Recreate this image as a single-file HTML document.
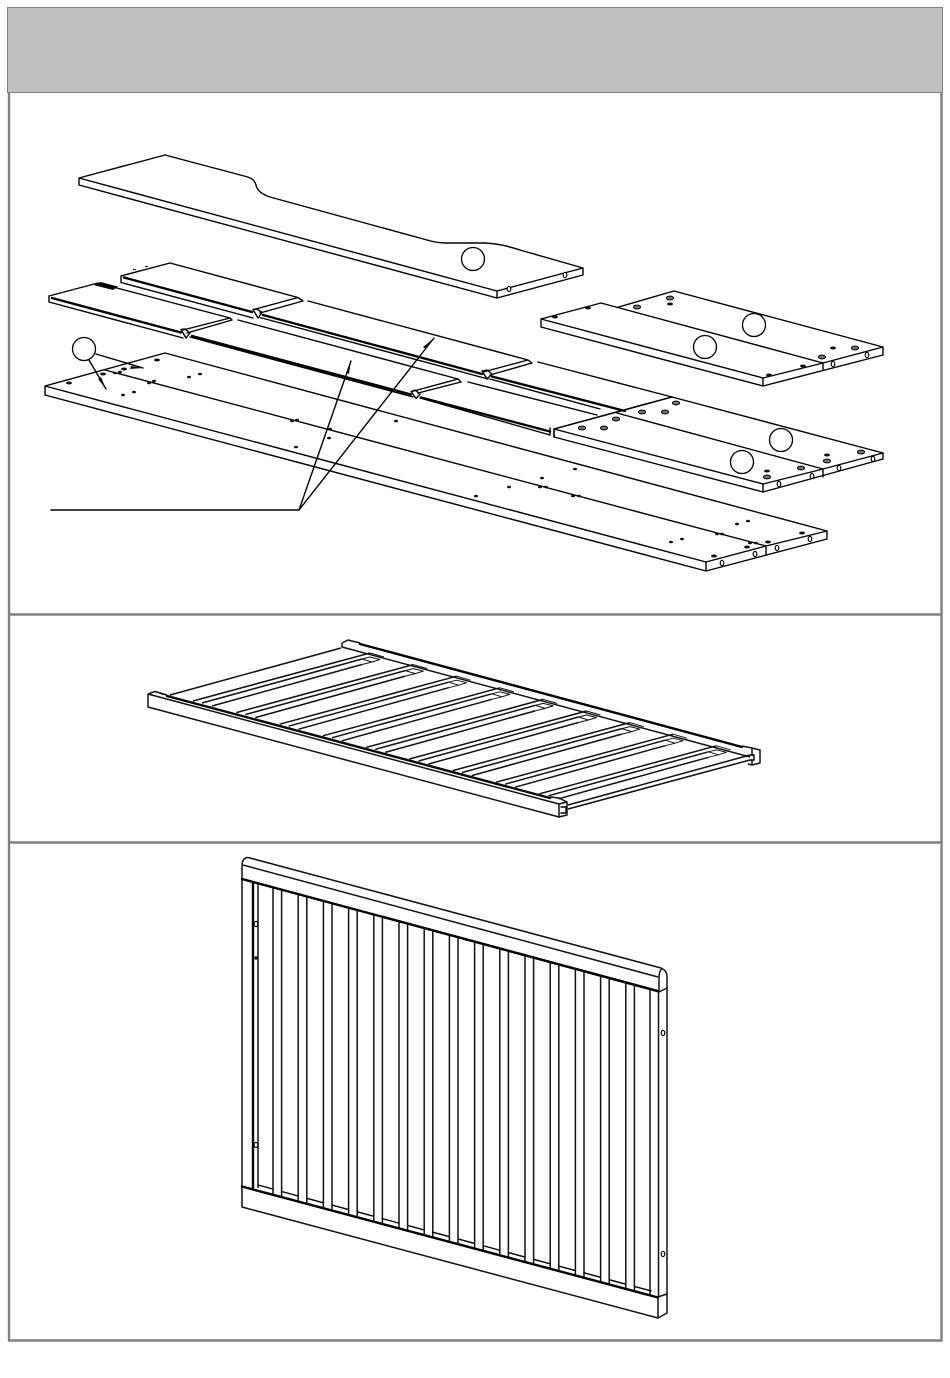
<!DOCTYPE html>
<html><head><meta charset="utf-8"><style>
html,body{margin:0;padding:0;background:#fff;width:950px;height:1378px;overflow:hidden}
svg{display:block}
.l{fill:none;stroke:#000;stroke-width:1.4;stroke-linejoin:round;stroke-linecap:round}
.t{fill:none;stroke:#000;stroke-width:2.4;stroke-linecap:round}
.g{fill:none;stroke:#333;stroke-width:1}
.m{fill:none;stroke:#111;stroke-width:1.5;stroke-linejoin:round}
.s{fill:none;stroke:#111;stroke-width:1;stroke-linejoin:round}
.c{fill:#fff;stroke:#000;stroke-width:1.3}
.d{fill:#111}
.o{fill:#777;stroke:#000;stroke-width:1}
.e{fill:#fff;stroke:#000;stroke-width:1.2}
</style></head><body>
<svg xmlns="http://www.w3.org/2000/svg" width="950" height="1378" viewBox="0 0 950 1378">
<defs>
<g id="slat">
<path class="m" d="M193 701L370 653M202 703L362 659M212 706L362 664.500"/>
<path class="s" d="M362 659L370 657L380 659.500L372 662L362 659M372 662L362 664.500M370 653L384 657"/>
</g>
<g id="bal"><path class="m" d="M273 887V1194.300M281.600 889.500V1196.700"/><path class="l" d="M281.600 1191.500L298.200 1196"/></g>
<ellipse id="dk" rx="3" ry="1.500" class="d"/>
<ellipse id="sm" rx="2" ry="1.300" class="d"/>
<ellipse id="op" rx="3.600" ry="1.900" class="o"/>
<ellipse id="ed" rx="1.800" ry="2.600" class="e"/>
</defs>

<!-- frame -->
<rect x="8" y="8" width="934" height="84.500" fill="#c0c0c0"/>
<path d="M7.500 93V7.500H942.500V93M7.500 92.500H942.500" fill="none" stroke="#808080" stroke-width="1"/>
<path d="M9 93V1340.500H941.500V93M9 614.500H941.500M9 842.500H941.500" fill="none" stroke="#808080" stroke-width="2.400"/>

<!-- top long board -->
<path class="l" d="M79 178L165 155L246 176.500C252 178 255 181 256 185C257 190 261 194 270 197L427 240C435 242.500 441 243 447 243H485C500 243.500 510 247 520 250L583 268V275L497 298L79 185V178L497 291L583 268"/>
<path class="l" d="M497 291V298"/>
<use href="#ed" x="509" y="289"/><use href="#ed" x="565" y="275"/>
<circle class="c" cx="473" cy="259" r="11.500"/>

<!-- top right board -->
<path class="l" d="M541 319L601 303L823 363L763 378L541 319V327L763 386V378M617 307.500L674 291L883 347V355L763 386M823 363L883 347M823 363V370"/>
<use href="#op" x="670" y="298"/><use href="#dk" x="670" y="304"/><use href="#op" x="637" y="307"/>
<use href="#dk" x="588" y="308"/><use href="#dk" x="555" y="317"/><use href="#dk" x="833" y="348"/>
<use href="#op" x="855" y="348"/><use href="#op" x="822" y="357"/><use href="#dk" x="803" y="366"/><use href="#dk" x="769" y="375"/>
<use href="#ed" x="833" y="364"/><use href="#ed" x="867" y="355"/>
<circle class="c" cx="754" cy="325" r="11.500"/><circle class="c" cx="705" cy="347" r="11.500"/>

<!-- upper slat assembly -->
<path class="l" d="M121 276L170 263L298 297.500L303 301L260 313M298 297.500L254 309.500M308 301L528 360L532 363L490 375M528 360L483 372M538 362L672 397M121 276V282.500L253 318M260 317.500L488 379M490 379L600 409"/>
<path class="t" d="M124 277.500L252 312M263 315L482 374M492 376.500L625 411"/>
<path class="l" d="M253 309.500L258 318L262 312.500L257 309ZM482 371L487 379L492 374L487 370Z"/>

<!-- lower slat assembly -->
<path class="l" d="M49 296L98 283L230 318L232 320L187 333M230 318L183 330M238 320L458 379L461 382L418 393M458 379L412 391.500M468 382L597 415M49 296V302L183 338M190 337L413 397M420 398L550 435V428M554 429V437"/>
<path class="t" d="M52 298L181 332.500M192 336L411 394.500M421 397.500L550 431.500"/>
<path class="l" d="M181 329.500L186 338L190 333L185 329ZM411 391.500L416 398.500L420 394L415 390Z"/>
<path d="M95 284.500L101 283L116 287L113 289Z" fill="#000" stroke="#000" stroke-width="1.800"/>
<path d="M60 292.500H63M72 289.500H75M84 286.500H87M133 269.500H136M145 266.500H148" stroke="#333" stroke-width="1.200"/>

<!-- plate assembly -->
<path fill="#fff" class="l" d="M554 429L672 397L883 453V459L763 492L554 437Z"/>
<path class="l" d="M554 429L763 484L823 469L883 453M617 413L823 469V477M763 484V492"/>
<path class="l" d="M672 397L554 429" stroke-width="1.800"/>
<use href="#op" x="676" y="403"/><use href="#op" x="642" y="412"/><use href="#op" x="665" y="412"/><use href="#op" x="616" y="419"/>
<use href="#op" x="582" y="428"/><use href="#op" x="604" y="428"/><use href="#dk" x="827" y="455"/>
<use href="#op" x="827" y="461"/><use href="#op" x="861" y="452"/><use href="#op" x="801" y="468"/>
<use href="#dk" x="767" y="471"/><use href="#op" x="767" y="477"/>
<use href="#ed" x="779" y="484"/><use href="#ed" x="812" y="476"/><use href="#ed" x="839" y="468"/><use href="#ed" x="873" y="459"/>
<circle class="c" cx="781" cy="440" r="11.500"/><circle class="c" cx="742" cy="462" r="11.500"/>

<!-- bottom board -->
<path class="l" d="M45 386L165 353L827 531V539L706 571L45 395V386L706 562L766 546L827 531M706 562V571M105 370L766 546V555"/>
<use href="#dk" x="69" y="383"/><use href="#dk" x="103" y="374"/><use href="#dk" x="124" y="369"/><use href="#dk" x="157" y="360"/>
<use href="#sm" x="115" y="373"/><use href="#sm" x="120" y="372"/><use href="#sm" x="189" y="377"/><use href="#sm" x="200" y="374"/>
<use href="#sm" x="123" y="395"/><use href="#sm" x="134" y="392"/><use href="#sm" x="149" y="383"/><use href="#sm" x="154" y="381"/>
<use href="#sm" x="292" y="421"/><use href="#sm" x="297" y="420"/><use href="#sm" x="396" y="421"/><use href="#sm" x="330" y="429"/>
<use href="#sm" x="329" y="438"/><use href="#sm" x="296" y="447"/><use href="#sm" x="575" y="469"/><use href="#sm" x="542" y="478"/>
<use href="#sm" x="509" y="487"/><use href="#sm" x="476" y="496"/><use href="#sm" x="540" y="487"/><use href="#sm" x="546" y="487"/>
<use href="#sm" x="573" y="496"/><use href="#sm" x="579" y="496"/><use href="#sm" x="737" y="524"/><use href="#sm" x="748" y="521"/>
<use href="#sm" x="671" y="542"/><use href="#sm" x="682" y="539"/><use href="#sm" x="717" y="534"/><use href="#sm" x="722" y="534"/>
<use href="#sm" x="750" y="543"/><use href="#sm" x="756" y="543"/><use href="#dk" x="768" y="542"/><use href="#dk" x="802" y="533"/>
<use href="#dk" x="747" y="547"/><use href="#dk" x="714" y="556"/>
<use href="#ed" x="722" y="563"/><use href="#ed" x="755" y="554"/><use href="#ed" x="777" y="548"/><use href="#ed" x="810" y="539"/>

<!-- callouts -->
<circle class="c" cx="84" cy="349" r="11.500"/>
<path class="l" d="M96 354L143 368M89 360L106 389M51 510H299L351 361M299 510L434 338"/>
<path class="d" d="M143 368L131 366L130 369ZM106 389L98 379L101 377ZM351 361L349 374L346 373ZM434 338L426 349L423 347Z"/>

<!-- bed frame -->
<path class="m" d="M170 695L341 648M568 805L750 755M568 809L750 760"/>
<use href="#slat"/>
<use href="#slat" x="43.300" y="11.600"/><use href="#slat" x="86.600" y="23.200"/><use href="#slat" x="129.900" y="34.800"/>
<use href="#slat" x="173.200" y="46.400"/><use href="#slat" x="216.500" y="58"/><use href="#slat" x="259.800" y="69.600"/>
<use href="#slat" x="303.100" y="81.200"/><use href="#slat" x="346.400" y="92.800"/>
<!-- back rail -->
<path fill="#fff" stroke="none" d="M342 643L348 640L742 746L760 749V763L752 765L750 753Z"/>
<path class="m" d="M342 643L348 640L360 643M342 643V647L750 757M742 746L752 748L760 750V763L752 765L748 764M752 748V756M752 760V765"/>
<path class="t" d="M360 644L742 747"/>
<path class="l" d="M750 755H754V760H750"/>
<!-- front rail -->
<path class="m" d="M148 694L155 691.500L167 695M148 694V707L559 817L567 815V802L559 804L148 694M559 804V817M550 797L559 798L567 802"/>
<path class="t" d="M167 696L550 798"/>
<path class="s" d="M160 693.500L550 798"/>
<path class="l" d="M561 807H566V813H561"/>

<!-- panel -->
<path class="m" d="M242 879V866C242 860 245 856 250 858L661 968C665 970 667 972 667 977V988L659 992L242 879M243 865L658 977M659 992V979C659 973 660 970 662 969"/>
<path class="m" d="M242 879V1186M258 884V1188M650 989.500V1295M658.500 992V1297M667 988V1295"/>
<path class="t" d="M253 882V1188" stroke-width="2.800"/>
<path class="t" d="M242 879L658 991" stroke-width="1.800"/>
<path class="l" d="M258 1185L273 1189"/>
<use href="#bal"/><use href="#bal" x="25.200" y="6.780"/><use href="#bal" x="50.400" y="13.560"/><use href="#bal" x="75.600" y="20.340"/><use href="#bal" x="100.800" y="27.120"/>
<use href="#bal" x="126" y="33.900"/><use href="#bal" x="151.200" y="40.680"/><use href="#bal" x="176.400" y="47.460"/><use href="#bal" x="201.600" y="54.240"/><use href="#bal" x="226.800" y="61.020"/>
<use href="#bal" x="252" y="67.800"/><use href="#bal" x="277.200" y="74.580"/><use href="#bal" x="302.400" y="81.360"/><use href="#bal" x="327.600" y="88.140"/><use href="#bal" x="352.800" y="94.920"/>
<path class="t" d="M242 1186.500L658 1297.500" stroke-width="2.400"/>
<path class="m" d="M242 1186V1207L658 1318V1297L667 1294V1313L658 1318"/>
<use href="#ed" x="256" y="924"/><circle class="d" cx="256" cy="958" r="1.700"/><use href="#ed" x="256" y="1145"/>
<use href="#ed" x="663" y="1033"/><use href="#ed" x="663" y="1254"/>
</svg>
</body></html>
